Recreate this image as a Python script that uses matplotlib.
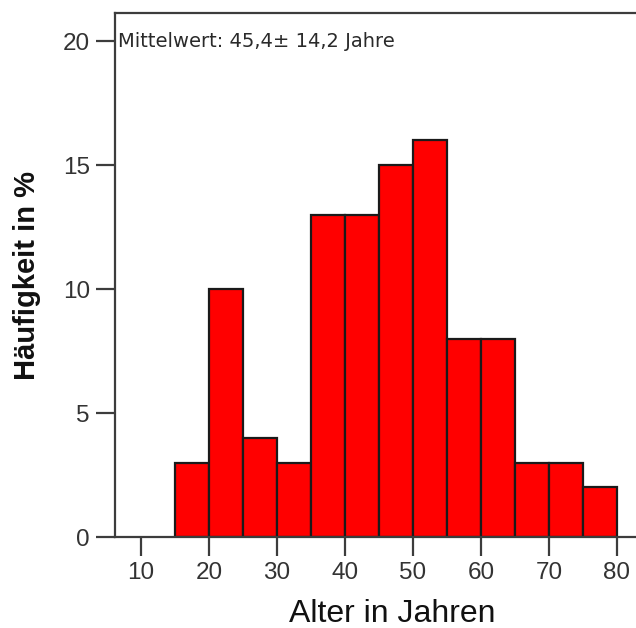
import matplotlib
matplotlib.use("Agg")
import matplotlib.pyplot as plt
import matplotlib.transforms as mtransforms

# Data
bin_edges = [15, 20, 25, 30, 35, 40, 45, 50, 55, 60, 65, 70, 75, 80]
percent = [3, 10, 4, 3, 13, 13, 15, 16, 8, 8, 3, 3, 2]
xticks = [10, 20, 30, 40, 50, 60, 70, 80]
yticks = [0, 5, 10, 15, 20]
annotation = "Mittelwert: 45,4\u00b1 14,2 Jahre"
xlabel = "Alter in Jahren"
ylabel = "Häufigkeit in %"

plt.rcParams['font.family'] = ['Liberation Sans', 'DejaVu Sans']

fig = plt.figure(figsize=(6.36, 6.28), dpi=100)
ax = fig.add_axes([115/636, 91/628, 521/636, 524/628])

widths = [bin_edges[i+1] - bin_edges[i] for i in range(len(percent))]
ax.bar(bin_edges[:-1], percent, width=widths, align='edge',
       color='#ff0000', edgecolor='#1a1a1a', linewidth=1.6, zorder=2)

ax.set_xlim(6.18, 82.8)
ax.set_ylim(0, 21.13)
ax.set_xticks(xticks)
ax.set_yticks(yticks)

spine_col = '#3c3c3c'
for s in ['left', 'bottom', 'top']:
    ax.spines[s].set_color(spine_col)
    ax.spines[s].set_linewidth(1.6)
ax.spines['right'].set_visible(False)

ax.tick_params(axis='both', direction='out', length=14, width=1.6,
               color=spine_col, labelsize=17.5, labelcolor='#333333', pad=4)

ax.set_xlabel(xlabel, fontsize=23, color='#111111', va='center')
ax.xaxis.set_label_coords(0.532, -0.147)
ax.set_ylabel(ylabel, fontsize=21, fontweight='bold', color='#111111', labelpad=16)

trans = mtransforms.blended_transform_factory(ax.transAxes, ax.transData)
ax.text(0.006, 20, annotation, transform=trans, ha='left', va='center',
        fontsize=14, color='#2a2a2a', family=['DejaVu Sans'])

fig.savefig("out.png", dpi=100)
